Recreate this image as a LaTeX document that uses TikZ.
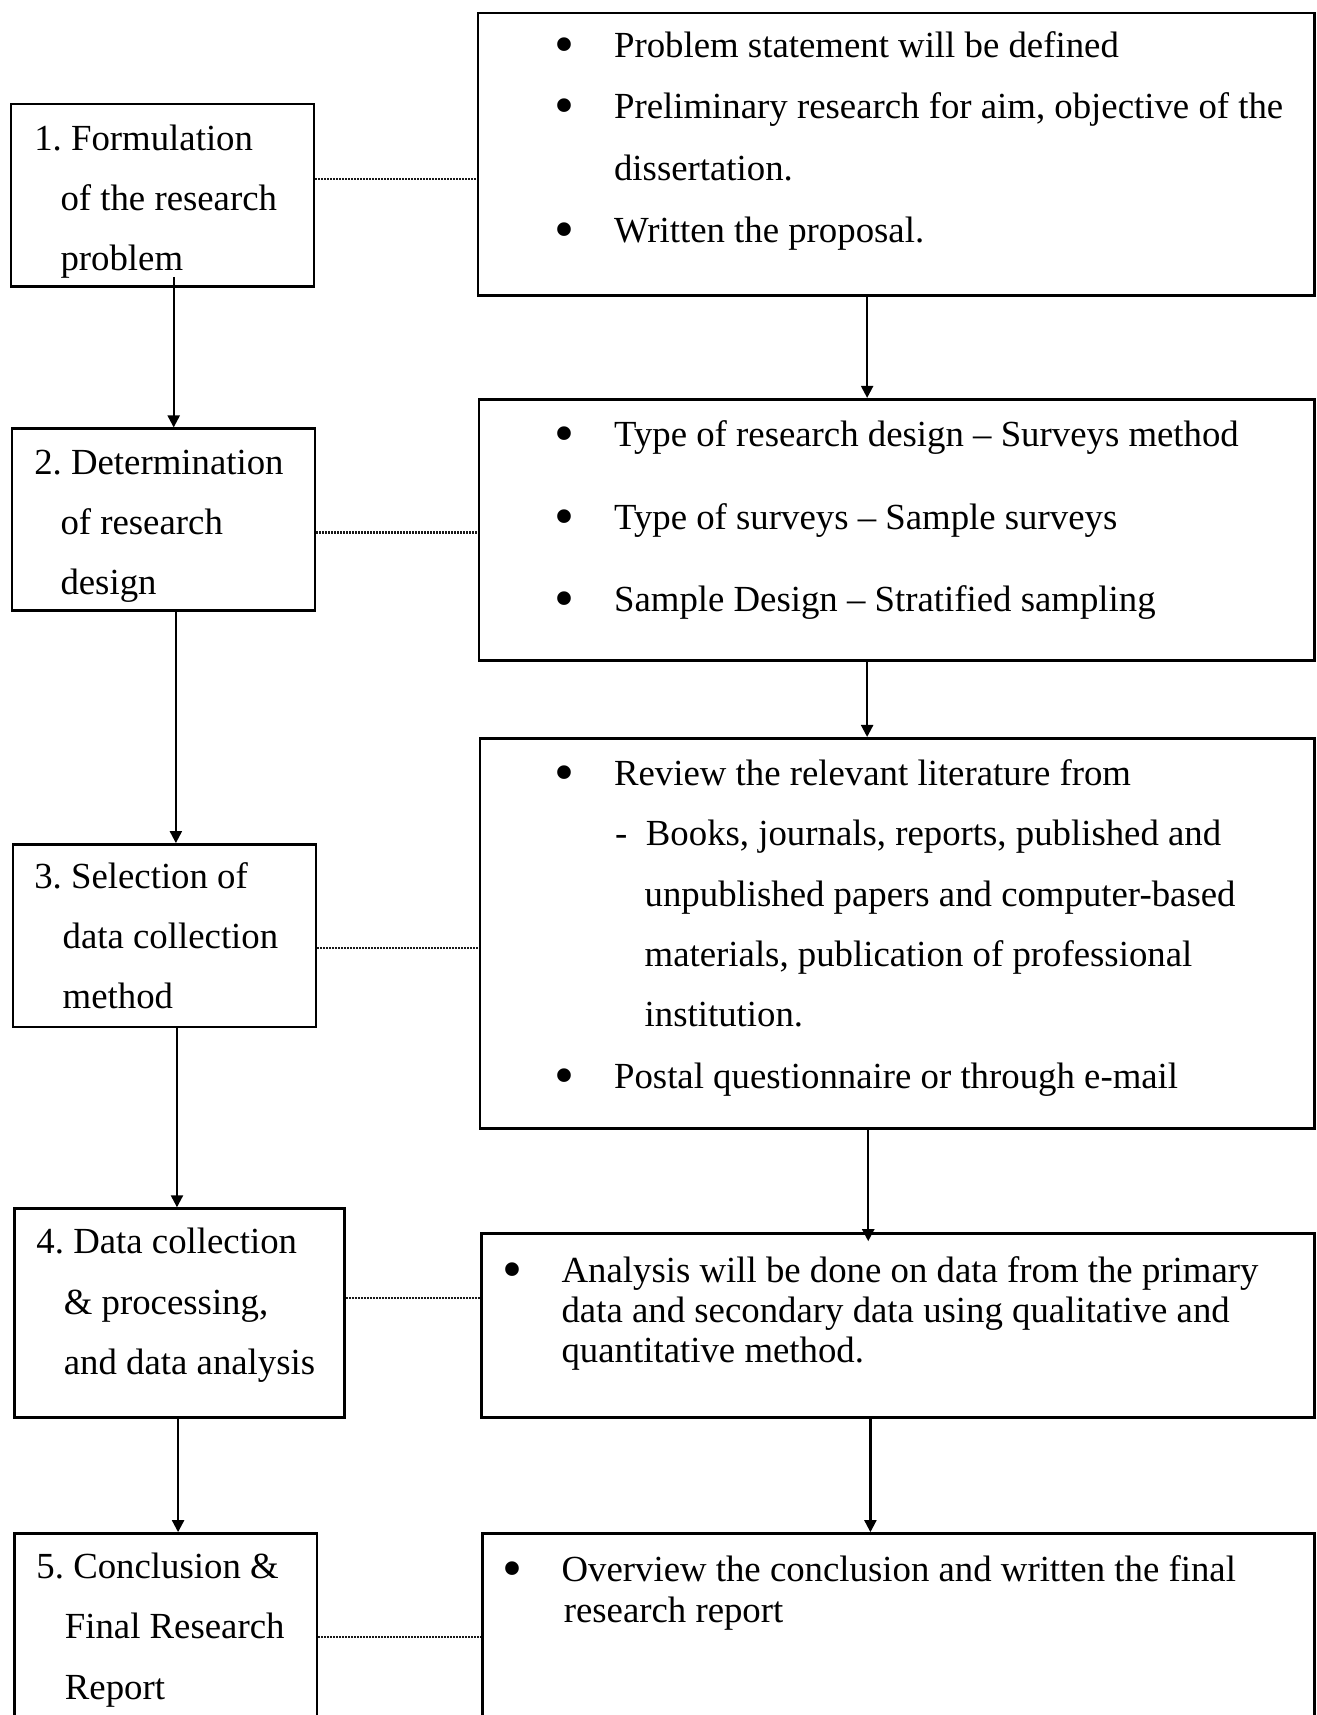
\documentclass[tikz,border=0pt]{standalone}
\usepackage{fontspec}
\setmainfont{Liberation Serif}
\usetikzlibrary{arrows.meta,calc,fit}
\newcommand\bul{\makebox[21.9pt]{\raisebox{-3pt}{\scalebox{1.55}{\textbullet}}}\hspace{13.7pt}}
\begin{document}
\begin{tikzpicture}[x=0.547pt,y=-0.547pt,
  box/.style={draw, line width=1.3pt, inner sep=0pt},
  txt/.style={anchor=north west, inner sep=0pt, align=left},
  arr/.style={line width=1.1pt, -{Triangle[width=6pt,length=6pt]}},
  dot/.style={line width=1.2pt, dash pattern=on 1pt off 0.5pt, black!90}]
\useasboundingbox (0,0) rectangle (1204,1568);
\clip (0,0) rectangle (1204,1568);
\fill[white] (0,0) rectangle (1204,1568);

% left boxes
\node[box, fit={(10,95) (287,262)}] (b1) {};
\node[box, fit={(11,392) (288,558)}] (b2) {};
\node[box, fit={(12,772) (289,939)}] (b3) {};
\node[box, fit={(13,1105) (315,1296)}] (b4) {};
\node[box, fit={(13,1402) (290,1620)}] (b5) {};
% right boxes
\node[box, fit={(437,12) (1202,270)}] (r1) {};
\node[box, fit={(438,365) (1202,604)}] (r2) {};
\node[box, fit={(439,675) (1202,1032)}] (r3) {};
\node[box, fit={(440,1128) (1202,1296)}] (r4) {};
\node[box, fit={(441,1402) (1202,1620)}] (r5) {};

% left texts
\node[txt, font=\fontsize{18.4pt}{30.1pt}\selectfont] (t1) at (31,98.5)
  {\strut 1.\ Formulation\\\hspace*{13.1pt}of the research\\\hspace*{13.1pt}problem};
\node[txt, font=\fontsize{18.4pt}{30.1pt}\selectfont] (t2) at (31,394.5)
  {\strut 2.\ Determination\\\hspace*{13.1pt}of research\\\hspace*{13.1pt}design};
\node[txt, font=\fontsize{18.4pt}{30.1pt}\selectfont] (t3) at (31,773.5)
  {\strut 3.\ Selection of\\\hspace*{14.2pt}data collection\\\hspace*{14.2pt}method};
\node[txt, font=\fontsize{18.4pt}{30.1pt}\selectfont] (t4) at (33,1107.5)
  {\strut 4.\ Data collection\\\hspace*{13.7pt}\& processing,\\\hspace*{13.7pt}and data analysis};
\node[txt, font=\fontsize{18.4pt}{30.1pt}\selectfont] (t5) at (33,1404.5)
  {\strut 5.\ Conclusion \&\\\hspace*{14.2pt}Final Research\\\hspace*{14.2pt}Report};

% right texts
\node[txt, font=\fontsize{18.4pt}{30.8pt}\selectfont] (u1) at (496,12.6)
  {\strut\bul Problem statement will be defined\\
   \bul Preliminary research for aim, objective of the\\
   \hspace*{35.6pt}dissertation.\\
   \bul Written the proposal.};
\node[txt, font=\fontsize{18.4pt}{41.3pt}\selectfont] (u2) at (496,355.1)
  {\strut\bul Type of research design -- Surveys method\\
   \bul Type of surveys -- Sample surveys\\
   \bul Sample Design -- Stratified sampling};
\node[txt, font=\fontsize{18.4pt}{30.1pt}\selectfont] (u3) at (496,679.5)
  {\strut\bul Review the relevant literature from\\
   \hspace*{36.1pt}-\hspace{9.3pt}Books, journals, reports, published and\\
   \hspace*{50.9pt}unpublished papers and computer-based\\
   \hspace*{50.9pt}materials, publication of professional\\
   \hspace*{50.9pt}institution.\\[1pt]
   \bul Postal questionnaire or through e-mail};
\node[txt, font=\fontsize{18.4pt}{20pt}\selectfont] (u4) at (448,1146.4)
  {\strut\bul Analysis will be done on data from the primary\\
   \hspace*{35.6pt}data and secondary data using qualitative and\\
   \hspace*{35.6pt}quantitative method.};
\node[txt, font=\fontsize{18.4pt}{20.2pt}\selectfont] (u5) at (448,1420)
  {\strut\bul Overview the conclusion and written the final\\
   \hspace*{36.7pt}research report};

% vertical arrows, left column
\path (b1.south west) ++(150,-10) coordinate (s1);
\draw[arr] (s1) -- (s1 |- b2.north);
\path (b2.south west) ++(151,0) coordinate (s2);
\draw[arr] (s2) -- (s2 |- b3.north);
\path (b3.south west) ++(151,0) coordinate (s3);
\draw[arr] (s3) -- (s3 |- b4.north);
\path (b4.south west) ++(151,0) coordinate (s4);
\draw[arr] (s4) -- (s4 |- b5.north);

% vertical arrows, right column
\path (r1.south west) ++(357,0) coordinate (s5);
\draw[arr] (s5) -- (s5 |- r2.north);
\path (r2.south west) ++(356,0) coordinate (s6);
\draw[arr] (s6) -- (s6 |- r3.north);
\path (r3.south west) ++(356,0) coordinate (s7);
\draw[arr] (s7) -- ($(s7 |- r4.north)+(0,8)$);
\path (r4.south west) ++(357,0) coordinate (s8);
\draw[arr] (s8) -- (s8 |- r5.north);

% dotted links
\path (b1.north east) ++(0,70) coordinate (d1);
\draw[dot] (d1) -- (d1 -| r1.west);
\path (b2.north east) ++(0,96) coordinate (d2);
\draw[dot] (d2) -- (d2 -| r2.west);
\path (b3.north east) ++(0,96) coordinate (d3);
\draw[dot] (d3) -- (d3 -| r3.west);
\path (b4.north east) ++(0,83) coordinate (d4);
\draw[dot] (d4) -- (d4 -| r4.west);
\path (b5.north east) ++(0,96) coordinate (d5);
\draw[dot] (d5) -- (d5 -| r5.west);
\end{tikzpicture}
\end{document}
